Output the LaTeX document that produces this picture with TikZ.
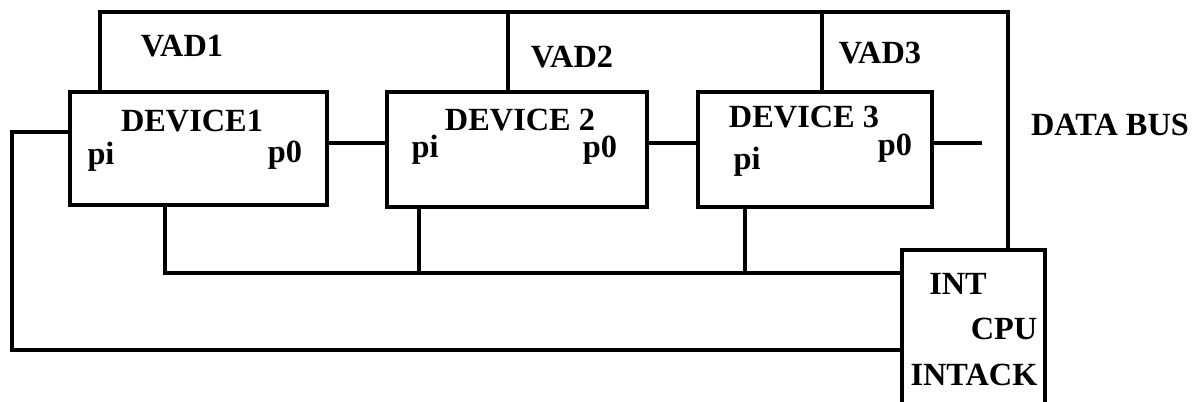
\documentclass[tikz,border=0pt]{standalone}
\usepackage{fontspec}
\setmainfont{Liberation Serif}
\tikzset{
    wire/.style = {line width = 3.4pt},
    thinwire/.style = {line width = 2.2pt},
    devbox/.style = {draw, line width = 3.4pt, inner sep = 0pt},
    lab/.style = {font = \fontsize{23}{26}\selectfont\bfseries, inner sep = 0pt}
}
\begin{document}
\begin{tikzpicture}[x = 0.025cm, y = -0.025cm]
        \clip (0, 0) rectangle (1200, 401);
        % devices and cpu
        \node[devbox, minimum width = 257*0.025cm, minimum height = 113*0.025cm] (dev1) at (198.5, 148.5) {};
        \node[devbox, minimum width = 260*0.025cm, minimum height = 115*0.025cm] (dev2) at (517, 149.5) {};
        \node[devbox, minimum width = 234*0.025cm, minimum height = 115*0.025cm] (dev3) at (815, 149.5) {};
        \node[devbox, minimum width = 143*0.025cm, minimum height = 180*0.025cm] (cpu) at (973.5, 340) {};
        % labels
        \node[lab] (d1txt) at (192, 121) {DEVICE1};
        \node[lab] (d2txt) at (520, 120) {DEVICE 2};
        \node[lab] (d3txt) at (804, 117) {DEVICE 3};
        \foreach \n/\x/\y/\t in {pi1/101/157/pi, po1/285/155/p0, pi2/425/150/pi, po2/600/150/p0, pi3/747/162/pi, po3/895/148/p0}{
            \node[lab] (\n) at (\x, \y) {\t};
        }
        \node[lab] (vad1) at (182, 46) {VAD1};
        \node[lab] (vad2) at (572, 57) {VAD2};
        \node[lab] (vad3) at (880, 53) {VAD3};
        \node[lab] (dbus) at (1110, 125) {DATA BUS};
        \node[lab] (int) at (958, 284) {INT};
        \node[lab] (cputxt) at (1004, 329) {CPU};
        \node[lab] (intack) at (974, 375) {INTACK};
        % vector address bus
        \coordinate (v1) at (100, 12);
        \coordinate (v2) at (508, 12);
        \coordinate (v3) at (822, 12);
        \coordinate (v4) at (1008, 12);
        \draw[wire] (v1 |- dev1.north) -- (v1) -- (v4) -- (v4 |- cpu.north);
        \draw[wire] (v2) -- (v2 |- dev2.north);
        \draw[wire] (v3) -- (v3 |- dev3.north);
        % INT line
        \coordinate (b1) at (165, 273);
        \coordinate (b2) at (419, 273);
        \coordinate (b3) at (745, 273);
        \draw[wire] (b1 |- dev1.south) -- (b1) -- (b1 -| cpu.west);
        \draw[wire] (b2 |- dev2.south) -- (b2);
        \draw[wire] (b3 |- dev3.south) -- (b3);
        % INTACK daisy chain
        \coordinate (l1) at (12, 132);
        \coordinate (l2) at (12, 350);
        \draw[wire] (dev1.west |- l1) -- (l1) -- (l2) -- (l2 -| cpu.west);
        \coordinate (p) at (0, 143);
        \coordinate (dbend) at (982, 143);
        \draw[thinwire] (dev1.east |- p) -- (dev2.west |- p);
        \draw[thinwire] (dev2.east |- p) -- (dev3.west |- p);
        \draw[thinwire] (dev3.east |- p) -- (dbend);
    \end{tikzpicture}
\end{document}
